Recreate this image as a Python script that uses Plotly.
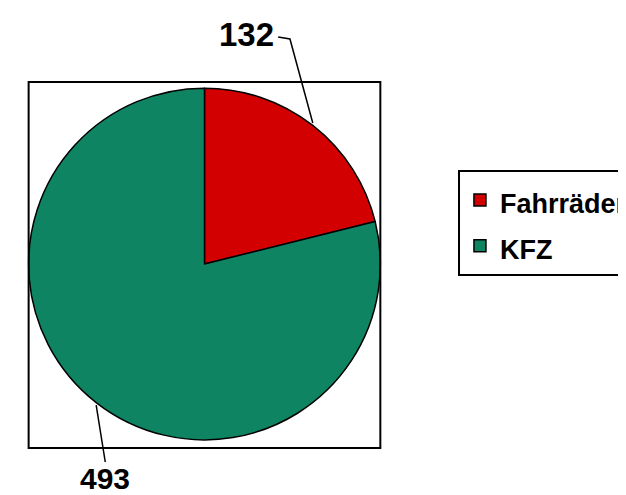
import numpy as np
import plotly.graph_objects as go

categories = ["Fahrräder", "KFZ"]
values = [132, 493]
colors = ["#d20000", "#0f8462"]

W, H = 626, 495

def px(x):
    return x / W

def py(y):
    return 1 - y / H

# pie placement (pixels)
pie_left, pie_right, pie_top, pie_bottom = 21, 379, 75, 437
cx = (pie_left + pie_right) / 2
cy = (pie_top + pie_bottom) / 2
r = min(pie_right - pie_left, pie_bottom - pie_top) / 2

legend_labels = [f'<span style="font-size:27px">{c}</span>' for c in categories]

fig = go.Figure(go.Pie(
    labels=legend_labels,
    values=values,
    marker=dict(colors=colors, line=dict(color="black", width=1.5)),
    sort=False,
    direction="clockwise",
    rotation=0,
    textinfo="none",
    hoverinfo="value",
    domain=dict(x=[px(pie_left), px(pie_right)], y=[py(pie_bottom), py(pie_top)]),
))

# frame around pie
fig.add_shape(type="rect", xref="paper", yref="paper",
              x0=px(21), x1=px(379), y0=py(440), y1=py(74),
              line=dict(color="black", width=2), layer="above")

# labels with leader lines computed from slice mid-angles
total = sum(values)
cum = np.cumsum([0] + values)
mid_angles = [(cum[i] + values[i] / 2) / total * 2 * np.pi for i in range(len(values))]
edge_pts = [(cx + r * np.sin(a), cy - r * np.cos(a)) for a in mid_angles]

label_pos = [(243, 26), (99, 470)]
label_sizes = [33, 30]

# label 0: elbow leader
ex, ey = edge_pts[0]
lx, ly = label_pos[0]
fig.add_shape(type="path", xref="paper", yref="paper",
              path=f"M {px(lx+32)},{py(ly+3)} L {px(lx+44)},{py(ly+5)} L {px(ex)},{py(ey)}",
              line=dict(color="black", width=1.5))
# label 1: straight leader
ex, ey = edge_pts[1]
lx, ly = label_pos[1]
fig.add_shape(type="line", xref="paper", yref="paper",
              x0=px(lx), y0=py(ly - 16), x1=px(ex), y1=py(ey),
              line=dict(color="black", width=1.5))

for (lx, ly), v, s in zip(label_pos, values, label_sizes):
    fig.add_annotation(x=px(lx), y=py(ly), xref="paper", yref="paper",
                       text=f"<b>{v}</b>", showarrow=False,
                       font=dict(family="Liberation Sans, Arial, sans-serif", size=s, color="black"),
                       xanchor="center", yanchor="middle")

fig.update_layout(
    width=W, height=H,
    margin=dict(l=0, r=0, t=0, b=0),
    paper_bgcolor="white", plot_bgcolor="white",
    showlegend=True,
    legend=dict(
        x=px(458), y=py(162), xanchor="left", yanchor="top",
        bordercolor="black", borderwidth=2,
        font=dict(family="Liberation Sans, Arial, sans-serif", size=33, color="black", weight="bold"),
        tracegroupgap=0, itemwidth=30,
        bgcolor="white",
    ),
)

fig.write_html("out.html")
